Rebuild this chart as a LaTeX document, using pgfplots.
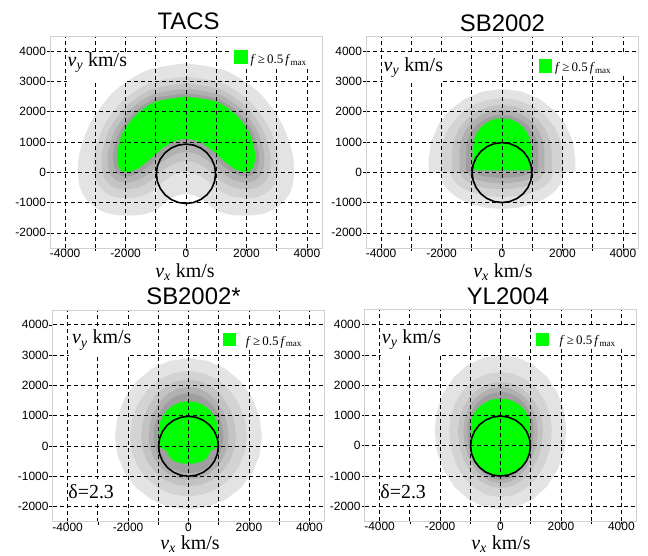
\documentclass[border=0pt]{standalone}
\usepackage{fontspec}
\setmainfont{Liberation Serif}
\setsansfont{Liberation Sans}
\usepackage{pgfplots}
\pgfplotsset{compat=1.18}
\definecolor{gA}{HTML}{E3E3E3}
\definecolor{gB}{HTML}{D3D3D3}
\definecolor{gC}{HTML}{C3C3C3}
\definecolor{gD}{HTML}{B1B1B1}
\definecolor{gE}{HTML}{9F9F9F}
\definecolor{grn}{HTML}{00FF00}
\newcommand{\vlab}[1]{\textit{v}\textsubscript{\textit{#1}}\ km/s}
\newcommand{\legtxt}{\textit{f}\,≥\,0.5\,\textit{f}\textsubscript{max}}
\pgfplotsset{panel/.style={
  anchor=south west, scale only axis, width=272bp, height=212bp,
  xmin=-4500, xmax=4500, ymin=-2500, ymax=4500,
  xtick={-4000,-2000,0,2000,4000}, xticklabels={-4000,-2000,0,2000,4000},
  minor xtick={-3000,-1000,1000,3000},
  ytick={-2000,-1000,0,1000,2000,3000,4000},
  yticklabels={-2000,-1000,0,1000,2000,3000,4000},
  grid=both,
  major grid style={black, dash pattern=on 4bp off 3bp, line width=0.7bp},
  minor grid style={black, dash pattern=on 4bp off 3bp, line width=0.7bp},
  axis on top, tick align=outside, tick pos=left,
  major tick length=3bp, minor tick length=3bp,
  tick style={black, line width=0.6bp},
  axis line style={draw=black!18},
  ticklabel style={font=\sffamily\fontsize{12}{12}\selectfont},
  xticklabel style={yshift=5.5bp},
  yticklabel style={xshift=2.5bp},
}}
\tikzset{lab/.style={font=\rmfamily\fontsize{20}{20}\selectfont, inner sep=0pt},
         ttl/.style={font=\sffamily\fontsize{24}{24}\selectfont, inner sep=0pt, anchor=base},
         lg/.style={font=\rmfamily\fontsize{13}{13}\selectfont, inner sep=0pt, anchor=base west}}
\begin{document}
\begin{tikzpicture}
\path[use as bounding box] (0,0) rectangle (648bp,556bp);
%================ TACS
\begin{axis}[panel, at={(50bp,308bp)}]
\addplot[draw=none, fill=gA, smooth] coordinates {(0,3600) (1300,3360) (2400,2650) (3150,1650) (3530,600) (3560,-250) (3400,-750) (3050,-1130) (2550,-1370) (2000,-1430) (1400,-1390) (950,-1220) (650,-980) (350,-790) (0,-720) (-350,-790) (-650,-980) (-950,-1220) (-1400,-1390) (-2000,-1430) (-2550,-1370) (-3050,-1130) (-3400,-750) (-3560,-250) (-3530,600) (-3150,1650) (-2400,2650) (-1300,3360) (0,3600)};
\addplot[draw=none, fill=gB, smooth] coordinates {(0,3160) (1180,2948) (2100,2350) (2730,1510) (3030,620) (3040,-38) (2912,-410) (2662,-670) (2322,-820) (1940,-850) (1480,-786) (1070,-580) (750,-308) (390,-74) (0,12) (-390,-74) (-750,-308) (-1070,-580) (-1480,-786) (-1940,-850) (-2322,-820) (-2662,-670) (-2912,-410) (-3040,-38) (-3030,620) (-2730,1510) (-2100,2350) (-1180,2948) (0,3160)};
\addplot[draw=none, fill=gC, smooth] coordinates {(0,2940) (1120,2742) (1950,2200) (2520,1440) (2780,630) (2780,68) (2668,-240) (2468,-440) (2208,-545) (1910,-560) (1520,-484) (1130,-260) (800,28) (410,284) (0,378) (-410,284) (-800,28) (-1130,-260) (-1520,-484) (-1910,-560) (-2208,-545) (-2468,-440) (-2668,-240) (-2780,68) (-2780,630) (-2520,1440) (-1950,2200) (-1120,2742) (0,2940)};
\addplot[draw=none, fill=gD, smooth] coordinates {(0,2764) (1072,2577) (1830,2080) (2352,1384) (2580,638) (2572,153) (2473,-104) (2313,-256) (2117,-325) (1886,-328) (1552,-242) (1178,-4) (840,297) (426,570) (0,671) (-426,570) (-840,297) (-1178,-4) (-1552,-242) (-1886,-328) (-2117,-325) (-2313,-256) (-2473,-104) (-2572,153) (-2580,638) (-2352,1384) (-1830,2080) (-1072,2577) (0,2764)};
\addplot[draw=none, fill=gE, smooth] coordinates {(0,2610) (1030,2433) (1725,1975) (2205,1335) (2405,645) (2390,227) (2302,15) (2177,-95) (2037,-132) (1865,-125) (1580,-31) (1220,220) (875,532) (440,821) (0,927) (-440,821) (-875,532) (-1220,220) (-1580,-31) (-1865,-125) (-2037,-132) (-2177,-95) (-2302,15) (-2390,227) (-2405,645) (-2205,1335) (-1725,1975) (-1030,2433) (0,2610)};
\addplot[draw=none, fill=grn, smooth] coordinates {(0,2500) (1000,2330) (1650,1900) (2100,1300) (2280,650) (2260,280) (2180,100) (2080,20) (1980,5) (1850,20) (1600,120) (1250,380) (900,700) (450,1000) (0,1110) (-450,1000) (-900,700) (-1250,380) (-1600,120) (-1850,20) (-1980,5) (-2080,20) (-2180,100) (-2260,280) (-2280,650) (-2100,1300) (-1650,1900) (-1000,2330) (0,2500)};
\addplot[black, line width=1.6bp] coordinates {(980,-50) (947,204) (849,440) (693,643) (490,799) (254,897) (0,930) (-254,897) (-490,799) (-693,643) (-849,440) (-947,204) (-980,-50) (-947,-304) (-849,-540) (-693,-743) (-490,-899) (-254,-997) (0,-1030) (254,-997) (490,-899) (693,-743) (849,-540) (947,-304) (980,-50)};
\coordinate (a1) at (axis cs:-3950,2970); \coordinate (b1) at (axis cs:-1950,3960);
\coordinate (t1) at (axis cs:-3920,3485);
\coordinate (c1) at (axis cs:1520,3480); \coordinate (d1) at (axis cs:4480,4480);
\coordinate (e1) at (axis cs:1600,3570); \coordinate (f1) at (axis cs:2063,4035);
\coordinate (g1) at (axis cs:2130,3600);
\end{axis}
%================ SB2002
\begin{axis}[panel, at={(366bp,308bp)}]
\addplot[draw=none, fill=gA] coordinates {(2050,20) (2050,0) (1980,-313) (1775,-605) (1450,-856) (1025,-1048) (531,-1169) (0,-1210) (-531,-1169) (-1025,-1048) (-1450,-856) (-1775,-605) (-1980,-313) (-2050,0) (-2050,20)};
\addplot[draw=none, fill=gB] coordinates {(1700,20) (1700,0) (1642,-212) (1472,-410) (1202,-580) (850,-710) (440,-792) (0,-820) (-440,-792) (-850,-710) (-1202,-580) (-1472,-410) (-1642,-212) (-1700,0) (-1700,20)};
\addplot[draw=none, fill=gC] coordinates {(1380,20) (1380,0) (1333,-145) (1195,-280) (976,-396) (690,-485) (357,-541) (0,-560) (-357,-541) (-690,-485) (-976,-396) (-1195,-280) (-1333,-145) (-1380,0) (-1380,20)};
\addplot[draw=none, fill=gD] coordinates {(1120,20) (1120,0) (1082,-93) (970,-180) (792,-255) (560,-312) (290,-348) (0,-360) (-290,-348) (-560,-312) (-792,-255) (-970,-180) (-1082,-93) (-1120,0) (-1120,20)};
\addplot[draw=none, fill=gE] coordinates {(900,20) (900,0) (869,-47) (779,-90) (636,-127) (450,-156) (233,-174) (0,-180) (-233,-174) (-450,-156) (-636,-127) (-779,-90) (-869,-47) (-900,0) (-900,20)};
\addplot[draw=none, fill=gA] coordinates {(2430,0) (2430,400) (2347,1008) (2104,1575) (1718,2062) (1215,2435) (629,2670) (0,2750) (-629,2670) (-1215,2435) (-1718,2062) (-2104,1575) (-2347,1008) (-2430,400) (-2430,0)};
\addplot[draw=none, fill=gB] coordinates {(2020,0) (2020,500) (1951,1005) (1749,1475) (1428,1879) (1010,2189) (523,2384) (0,2450) (-523,2384) (-1010,2189) (-1428,1879) (-1749,1475) (-1951,1005) (-2020,500) (-2020,0)};
\addplot[draw=none, fill=gC] coordinates {(1660,0) (1660,600) (1603,1022) (1438,1415) (1174,1753) (830,2012) (430,2174) (0,2230) (-430,2174) (-830,2012) (-1174,1753) (-1438,1415) (-1603,1022) (-1660,600) (-1660,0)};
\addplot[draw=none, fill=gD] coordinates {(1400,0) (1400,700) (1352,1055) (1212,1385) (990,1669) (700,1886) (362,2023) (0,2070) (-362,2023) (-700,1886) (-990,1669) (-1212,1385) (-1352,1055) (-1400,700) (-1400,0)};
\addplot[draw=none, fill=gE] coordinates {(1190,0) (1190,750) (1149,1048) (1031,1325) (841,1563) (595,1746) (308,1861) (0,1900) (-308,1861) (-595,1746) (-841,1563) (-1031,1325) (-1149,1048) (-1190,750) (-1190,0)};
\addplot[draw=none, fill=grn] coordinates {(940,110) (970,200) (970,800) (937,1056) (840,1295) (686,1500) (485,1657) (251,1756) (0,1790) (-251,1756) (-485,1657) (-686,1500) (-840,1295) (-937,1056) (-970,800) (-970,200) (-940,110) (-860,60) (860,60) (940,110)};
\addplot[black, line width=1.6bp] coordinates {(990,-10) (956,246) (857,485) (700,690) (495,847) (256,946) (0,980) (-256,946) (-495,847) (-700,690) (-857,485) (-956,246) (-990,-10) (-956,-266) (-857,-505) (-700,-710) (-495,-867) (-256,-966) (0,-1000) (256,-966) (495,-867) (700,-710) (857,-505) (956,-266) (990,-10)};
\coordinate (a2) at (axis cs:-3950,2970); \coordinate (b2) at (axis cs:-1950,3960);
\coordinate (t2) at (axis cs:-3920,3330);
\coordinate (c2) at (axis cs:1140,3180); \coordinate (d2) at (axis cs:4480,3930);
\coordinate (e2) at (axis cs:1220,3290); \coordinate (f2) at (axis cs:1650,3750);
\coordinate (g2) at (axis cs:1750,3333);
\end{axis}
%================ SB2002*
\begin{axis}[panel, at={(52.5bp,34.3bp)}]
\addplot[draw=none, fill=gA] coordinates {(2430,300) (2347,973) (2104,1600) (1718,2138) (1215,2552) (629,2811) (0,2900) (-629,2811) (-1215,2552) (-1718,2138) (-2104,1600) (-2347,973) (-2430,300) (-2347,-321) (-2104,-900) (-1718,-1397) (-1215,-1778) (-629,-2018) (0,-2100) (629,-2018) (1215,-1778) (1718,-1397) (2104,-900) (2347,-321) (2430,300)};
\addplot[draw=none, fill=gB] coordinates {(1930,300) (1864,864) (1671,1390) (1365,1841) (965,2188) (500,2406) (0,2480) (-500,2406) (-965,2188) (-1365,1841) (-1671,1390) (-1864,864) (-1930,300) (-1864,-210) (-1671,-685) (-1365,-1093) (-965,-1406) (-500,-1603) (0,-1670) (500,-1603) (965,-1406) (1365,-1093) (1671,-685) (1864,-210) (1930,300)};
\addplot[draw=none, fill=gC] coordinates {(1570,300) (1516,792) (1360,1250) (1110,1643) (785,1945) (406,2135) (0,2200) (-406,2135) (-785,1945) (-1110,1643) (-1360,1250) (-1516,792) (-1570,300) (-1516,-124) (-1360,-520) (-1110,-860) (-785,-1120) (-406,-1284) (0,-1340) (406,-1284) (785,-1120) (1110,-860) (1360,-520) (1516,-124) (1570,300)};
\addplot[draw=none, fill=gD] coordinates {(1320,300) (1275,730) (1143,1130) (933,1474) (660,1738) (342,1903) (0,1960) (-342,1903) (-660,1738) (-933,1474) (-1143,1130) (-1275,730) (-1320,300) (-1275,-68) (-1143,-410) (-933,-704) (-660,-930) (-342,-1072) (0,-1120) (342,-1072) (660,-930) (933,-704) (1143,-410) (1275,-68) (1320,300)};
\addplot[draw=none, fill=gE] coordinates {(1160,300) (1120,673) (1005,1020) (820,1318) (580,1547) (300,1691) (0,1740) (-300,1691) (-580,1547) (-820,1318) (-1005,1020) (-1120,673) (-1160,300) (-1120,-11) (-1005,-300) (-820,-549) (-580,-739) (-300,-859) (0,-900) (300,-859) (580,-739) (820,-549) (1005,-300) (1120,-11) (1160,300)};
\addplot[draw=none, fill=grn] coordinates {(0,1480) (256,1447) (495,1349) (700,1193) (857,990) (956,754) (990,500) (990,150) (975,30) (920,-60) (820,-110) (730,-170) (680,-260) (630,-370) (530,-460) (390,-530) (200,-575) (0,-590) (-200,-575) (-390,-530) (-530,-460) (-630,-370) (-680,-260) (-730,-170) (-820,-110) (-920,-60) (-975,30) (-990,150) (-990,500) (-956,754) (-857,990) (-700,1193) (-495,1349) (-256,1447) (0,1480)};
\addplot[black, line width=1.6bp] coordinates {(990,-10) (956,246) (857,485) (700,690) (495,847) (256,946) (0,980) (-256,946) (-495,847) (-700,690) (-857,485) (-956,246) (-990,-10) (-956,-266) (-857,-505) (-700,-710) (-495,-867) (-256,-966) (0,-1000) (256,-966) (495,-867) (700,-710) (857,-505) (956,-266) (990,-10)};
\coordinate (a3) at (axis cs:-3950,2970); \coordinate (b3) at (axis cs:-1950,3960);
\coordinate (t3) at (axis cs:-3860,3370);
\coordinate (c3) at (axis cs:1060,3180); \coordinate (d3) at (axis cs:4480,3930);
\coordinate (e3) at (axis cs:1140,3300); \coordinate (f3) at (axis cs:1570,3740);
\coordinate (g3) at (axis cs:1890,3333);
\coordinate (h3) at (axis cs:-3950,-1920); \coordinate (i3) at (axis cs:-2480,-1080);
\coordinate (j3) at (axis cs:-3980,-1730);
\end{axis}
%================ YL2004
\begin{axis}[panel, at={(364.5bp,34.5bp)}]
\addplot[draw=none, fill=gA] coordinates {(2180,500) (2106,1147) (1888,1750) (1541,2268) (1090,2665) (564,2915) (0,3000) (-564,2915) (-1090,2665) (-1541,2268) (-1888,1750) (-2106,1147) (-2180,500) (-2106,-173) (-1888,-800) (-1541,-1338) (-1090,-1752) (-564,-2011) (0,-2100) (564,-2011) (1090,-1752) (1541,-1338) (1888,-800) (2106,-173) (2180,500)};
\addplot[draw=none, fill=gB] coordinates {(1700,500) (1642,1002) (1472,1470) (1202,1872) (850,2180) (440,2374) (0,2440) (-440,2374) (-850,2180) (-1202,1872) (-1472,1470) (-1642,1002) (-1700,500) (-1642,-69) (-1472,-600) (-1202,-1056) (-850,-1405) (-440,-1625) (0,-1700) (440,-1625) (850,-1405) (1202,-1056) (1472,-600) (1642,-69) (1700,500)};
\addplot[draw=none, fill=gC] coordinates {(1410,500) (1362,917) (1221,1305) (997,1638) (705,1894) (365,2055) (0,2110) (-365,2055) (-705,1894) (-997,1638) (-1221,1305) (-1362,917) (-1410,500) (-1362,8) (-1221,-450) (-997,-843) (-705,-1145) (-365,-1335) (0,-1400) (365,-1335) (705,-1145) (997,-843) (1221,-450) (1362,8) (1410,500)};
\addplot[draw=none, fill=gD] coordinates {(1230,500) (1188,875) (1065,1225) (870,1525) (615,1756) (318,1901) (0,1950) (-318,1901) (-615,1756) (-870,1525) (-1065,1225) (-1188,875) (-1230,500) (-1188,50) (-1065,-370) (-870,-730) (-615,-1007) (-318,-1181) (0,-1240) (318,-1181) (615,-1007) (870,-730) (1065,-370) (1188,50) (1230,500)};
\addplot[draw=none, fill=gE] coordinates {(1100,500) (1062,831) (953,1140) (778,1405) (550,1608) (285,1736) (0,1780) (-285,1736) (-550,1608) (-778,1405) (-953,1140) (-1062,831) (-1100,500) (-1062,78) (-953,-315) (-778,-653) (-550,-912) (-285,-1074) (0,-1130) (285,-1074) (550,-912) (778,-653) (953,-315) (1062,78) (1100,500)};
\addplot[draw=none, fill=grn] coordinates {(0,1560) (251,1531) (485,1445) (686,1308) (840,1130) (937,923) (970,700) (980,300) (980,0) (947,-256) (849,-495) (693,-700) (490,-857) (254,-956) (0,-990) (-254,-956) (-490,-857) (-693,-700) (-849,-495) (-947,-256) (-980,0) (-980,300) (-970,700) (-937,923) (-840,1130) (-686,1308) (-485,1445) (-251,1531) (0,1560)};
\addplot[black, line width=1.6bp] coordinates {(990,-10) (956,246) (857,485) (700,690) (495,847) (256,946) (0,980) (-256,946) (-495,847) (-700,690) (-857,485) (-956,246) (-990,-10) (-956,-266) (-857,-505) (-700,-710) (-495,-867) (-256,-966) (0,-1000) (256,-966) (495,-867) (700,-710) (857,-505) (956,-266) (990,-10)};
\coordinate (a4) at (axis cs:-3950,2970); \coordinate (b4) at (axis cs:-1950,3960);
\coordinate (t4) at (axis cs:-3930,3370);
\coordinate (c4) at (axis cs:1100,3180); \coordinate (d4) at (axis cs:4480,3930);
\coordinate (e4) at (axis cs:1180,3300); \coordinate (f4) at (axis cs:1620,3740);
\coordinate (g4) at (axis cs:1950,3333);
\coordinate (h4) at (axis cs:-3950,-1920); \coordinate (i4) at (axis cs:-2480,-1080);
\coordinate (j4) at (axis cs:-3980,-1730);
\end{axis}
%================ overlays
\foreach \p in {1,2,3,4}{
  \fill[white] (a\p) rectangle (b\p);
  \fill[white] (c\p) rectangle (d\p);
  \fill[grn] (e\p) rectangle (f\p);
  \node[lg] at (g\p) {\legtxt};
}
\node[lab, anchor=base west] at (t1) {\vlab{y}};
\node[lab, anchor=base west] at (t2) {\vlab{y}};
\node[lab, anchor=base west] at (t3) {\vlab{y}};
\node[lab, anchor=base west] at (t4) {\vlab{y}};
\fill[white] (h3) rectangle (i3);
\fill[white] (h4) rectangle (i4);
\node[lab, anchor=base west] at (j3) {δ=2.3};
\node[lab, anchor=base west] at (j4) {δ=2.3};
% titles
\node[ttl] at (188.5bp,526bp) {TACS};
\node[ttl] at (502.5bp,524.3bp) {SB2002};
\node[ttl] at (193.5bp,251bp) {SB2002*};
\node[ttl] at (508bp,251.7bp) {YL2004};
% x labels
\node[lab, anchor=base] at (185bp,278.5bp) {\vlab{x}};
\node[lab, anchor=base] at (503bp,278.5bp) {\vlab{x}};
\node[lab, anchor=base] at (190bp,6.5bp) {\vlab{x}};
\node[lab, anchor=base] at (501bp,6.5bp) {\vlab{x}};
\end{tikzpicture}
\end{document}
